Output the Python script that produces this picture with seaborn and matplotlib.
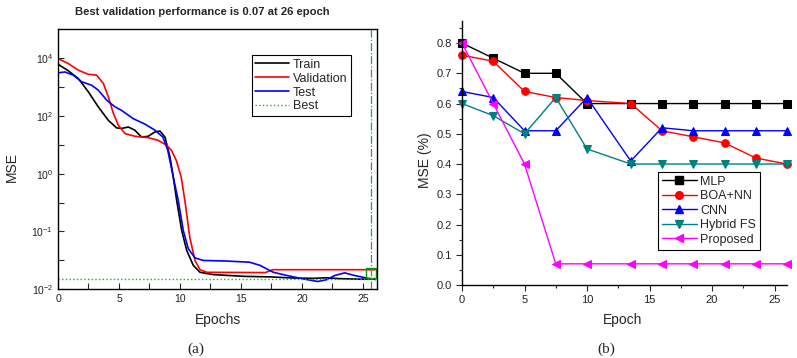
import numpy as np
import pandas as pd
import matplotlib
matplotlib.use('Agg')
import matplotlib.pyplot as plt
import seaborn as sns
from matplotlib.lines import Line2D
from matplotlib.ticker import FixedLocator, FixedFormatter, MultipleLocator

# ---- (a) training record: epoch and log10(MSE)
train_ep = [0, 0.85, 1.67, 2.49, 3.3, 4.13, 4.8, 5.2, 5.77, 6.3, 6.86, 7.4, 7.95, 8.36, 8.77,
            9.18, 9.45, 9.73, 10.14, 10.55, 11.09, 11.64, 12.73, 15.19, 17.4, 19.3, 21.0, 22.0,
            23.0, 24.75, 26]
train_log = [3.80, 3.57, 3.30, 2.84, 2.32, 1.85, 1.59, 1.57, 1.62, 1.51, 1.27, 1.30, 1.45, 1.48, 1.27,
             0.58, -0.12, -0.93, -1.97, -2.66, -3.18, -3.42, -3.50, -3.56, -3.58, -3.62, -3.63, -3.61,
             -3.64, -3.66, -3.65]

val_ep = [0, 0.85, 1.67, 2.49, 3.17, 3.72, 4.13, 4.54, 4.95, 5.5, 6.3, 7.4, 8.2, 8.9, 9.3, 9.7,
          10.1, 10.4, 10.8, 11.23, 11.64, 12.19, 17.0, 17.6, 26]
val_log = [4.0, 3.82, 3.59, 3.45, 3.42, 3.13, 2.66, 2.09, 1.68, 1.39, 1.30, 1.25, 1.16, 0.99, 0.81, 0.46,
           -0.12, -0.93, -2.2, -3.01, -3.33, -3.42, -3.43, -3.33, -3.33]

test_ep = [0, 0.57, 1.25, 1.94, 2.76, 3.3, 4.0, 4.67, 5.2, 6.17, 7.13, 7.95, 8.6, 9.0, 9.45, 9.86,
           10.27, 10.68, 11.23, 11.91, 13.8, 15.7, 16.56, 17.65, 18.75, 20.1, 21.3, 22.0, 22.7,
           23.5, 24.3, 25.3, 26]
test_log = [3.50, 3.53, 3.42, 3.19, 3.07, 2.90, 2.55, 2.32, 2.20, 1.91, 1.72, 1.51, 1.27, 0.81, -0.12, -0.93,
            -1.97, -2.60, -2.92, -3.01, -3.03, -3.07, -3.18, -3.42, -3.53, -3.65, -3.74, -3.68, -3.53,
            -3.44, -3.53, -3.62, -3.67]

best_epoch = 25.65
best_log = -3.65
best_mark_log = -3.43

ytick_pos = [4, 2, 0, -2, -4]
ytick_txt = ['$10^{4}$', '$10^{2}$', '$10^{0}$', '$10^{-1}$', '$10^{-2}$']

# ---- (b) MSE per epoch for each model
epochs = [0, 2.5, 5, 7.5, 10, 13.5, 16, 18.5, 21, 23.5, 26]
mlp = [0.80, 0.75, 0.70, 0.70, 0.60, 0.60, 0.60, 0.60, 0.60, 0.60, 0.60]
boa_nn = [0.76, 0.74, 0.64, 0.62, 0.61, 0.60, 0.51, 0.49, 0.47, 0.42, 0.40]
cnn = [0.64, 0.62, 0.51, 0.51, 0.62, 0.41, 0.52, 0.51, 0.51, 0.51, 0.51]
hybrid_fs = [0.60, 0.56, 0.50, 0.62, 0.45, 0.40, 0.40, 0.40, 0.40, 0.40, 0.40]
proposed = [0.80, 0.60, 0.40, 0.07, 0.07, 0.07, 0.07, 0.07, 0.07, 0.07, 0.07]

models = ['MLP', 'BOA+NN', 'CNN', 'Hybrid FS', 'Proposed']
colors = {'MLP': 'black', 'BOA+NN': '#ff0000', 'CNN': '#0000ff', 'Hybrid FS': '#008080', 'Proposed': '#ff00ff'}
marks = {'MLP': 's', 'BOA+NN': 'o', 'CNN': '^', 'Hybrid FS': 'v', 'Proposed': '<'}

sns.set_style('ticks')
plt.rcParams['font.family'] = ['Liberation Sans', 'DejaVu Sans']
plt.rcParams['mathtext.default'] = 'regular'

fig = plt.figure(figsize=(7.97, 3.58), dpi=100)
ax1 = fig.add_axes([58 / 797, 1 - 289 / 358, 319 / 797, 260 / 358])
ax2 = fig.add_axes([462 / 797, 1 - 285 / 358, 325 / 797, 264 / 358])

# ---------------- panel (a)
curves = pd.concat([
    pd.DataFrame({'epoch': train_ep, 'mse': 10.0 ** np.array(train_log), 'set': 'Train'}),
    pd.DataFrame({'epoch': val_ep, 'mse': 10.0 ** np.array(val_log), 'set': 'Validation'}),
    pd.DataFrame({'epoch': test_ep, 'mse': 10.0 ** np.array(test_log), 'set': 'Test'}),
], ignore_index=True)
ax1.set_yscale('log')
sns.lineplot(data=curves, x='epoch', y='mse', hue='set',
             palette={'Train': 'black', 'Validation': '#ff0000', 'Test': '#0000ff'},
             estimator=None, sort=False, lw=1.2, legend=False, ax=ax1)
ax1.axhline(10.0 ** best_log, color='#22aa22', ls=':', lw=1)
ax1.axvline(best_epoch, color='#3a9a3a', ls='-.', lw=0.9)
ax1.plot([best_epoch], [10.0 ** best_mark_log], 's', mfc='none', mec='#109010', ms=7.5, mew=1)

ax1.set_xlim(0, 26.15)
ax1.set_ylim(1e-4, 1.05e5)
ax1.set_xticks(np.arange(0, 26, 2.5))
ax1.set_xticklabels(['0', '', '5', '', '10', '', '15', '', '20', '', '25'])
ax1.yaxis.set_major_locator(FixedLocator(10.0 ** np.arange(-4, 5)))
ax1.yaxis.set_minor_locator(FixedLocator([]))
ax1.yaxis.set_major_formatter(FixedFormatter(
    [ytick_txt[ytick_pos.index(k)] if k in ytick_pos else '' for k in range(-4, 5)]))
ax1.tick_params(direction='in', length=4, width=0.8, labelsize=7.5, labelcolor='#222222')
for s in ax1.spines.values():
    s.set_color('black')
    s.set_linewidth(1)
ax1.set_xlabel('Epochs', fontsize=10)
ax1.set_ylabel('MSE', fontsize=10)
ax1.xaxis.set_label_coords(0.5, -0.12)
ax1.xaxis.label.set_verticalalignment('center')
ax1.yaxis.set_label_coords(-0.145, 0.47)
ax1.yaxis.label.set_verticalalignment('center')

h1 = [Line2D([], [], color='black', lw=1.2), Line2D([], [], color='#ff0000', lw=1.2),
      Line2D([], [], color='#0000ff', lw=1.2), Line2D([], [], color='#22aa22', lw=1, ls=':')]
leg1 = ax1.legend(h1, ['Train', 'Validation', 'Test', 'Best'], loc='upper left',
                  bbox_to_anchor=(0.607, 0.9), fontsize=9, fancybox=False, edgecolor='black',
                  framealpha=1, handlelength=2.7, borderpad=0.3, labelspacing=0.15,
                  handletextpad=0.3, borderaxespad=0)
leg1.get_frame().set_linewidth(0.8)

fig.text(202 / 797, 1 - 12 / 358, 'Best validation performance is 0.07 at 26 epoch',
         ha='center', va='center', fontsize=8.1, fontweight='bold')

# ---------------- panel (b)
scores = pd.DataFrame({'epoch': epochs * 5,
                       'mse': mlp + boa_nn + cnn + hybrid_fs + proposed,
                       'model': np.repeat(models, len(epochs))})
sns.lineplot(data=scores, x='epoch', y='mse', hue='model', style='model',
             palette=colors, markers=marks, dashes=False, hue_order=models,
             estimator=None, lw=1, markersize=5.5, clip_on=False, legend=False, ax=ax2)
for ln in ax2.lines:
    ln.set_markeredgecolor(ln.get_color())

ax2.set_xlim(0, 26)
ax2.set_ylim(0, 0.873)
ax2.xaxis.set_major_locator(MultipleLocator(5))
ax2.xaxis.set_minor_locator(MultipleLocator(2.5))
ax2.yaxis.set_major_locator(MultipleLocator(0.1))
ax2.yaxis.set_minor_locator(MultipleLocator(0.05))
ax2.yaxis.set_major_formatter(matplotlib.ticker.FormatStrFormatter('%.1f'))
ax2.tick_params(which='major', direction='out', length=4, width=0.8, labelsize=8, labelcolor='#222222')
ax2.tick_params(which='minor', direction='out', length=2.5, width=0.8)
sns.despine(ax=ax2)
for s in ax2.spines.values():
    s.set_color('black')
    s.set_linewidth(1)
ax2.set_xlabel('Epoch', fontsize=10)
ax2.set_ylabel('MSE (%)', fontsize=10)
ax2.xaxis.set_label_coords(0.495, -0.133)
ax2.xaxis.label.set_verticalalignment('center')
ax2.yaxis.set_label_coords(-0.114, 0.473)
ax2.yaxis.label.set_verticalalignment('center')

h2 = [Line2D([], [], color=colors[m], marker=marks[m], mec=colors[m], ms=5.5, lw=1) for m in models]
leg2 = ax2.legend(h2, models, loc='upper left', bbox_to_anchor=(0.603, 0.428), fontsize=9,
                  fancybox=False, edgecolor='black', framealpha=1, handlelength=2.8,
                  borderpad=0.3, labelspacing=0.2, handletextpad=0.3, borderaxespad=0)
leg2.get_frame().set_linewidth(0.8)

fig.text(196 / 797, 1 - 349 / 358, '(a)', ha='center', va='center', fontsize=11,
         family=['Liberation Serif', 'DejaVu Serif'])
fig.text(606 / 797, 1 - 349 / 358, '(b)', ha='center', va='center', fontsize=11,
         family=['Liberation Serif', 'DejaVu Serif'])

fig.savefig('out.png', dpi=100)
